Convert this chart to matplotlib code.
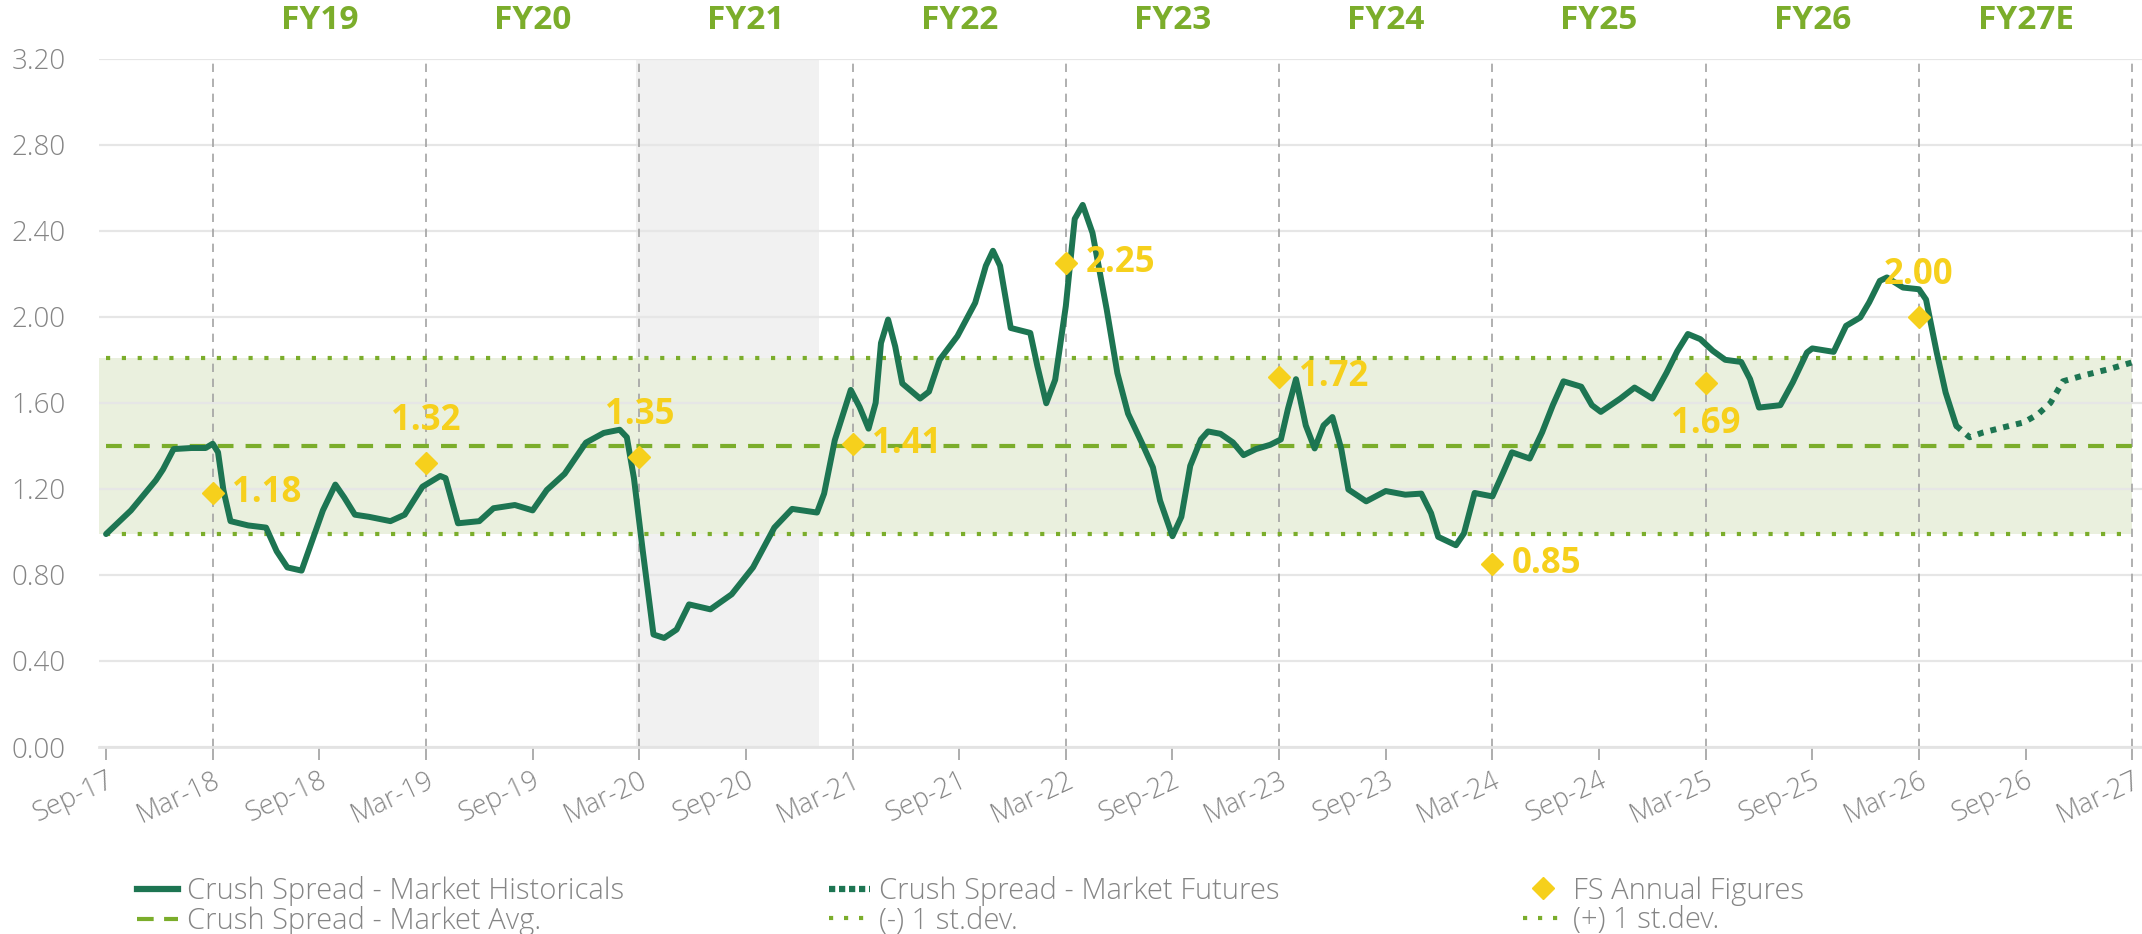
import matplotlib.pyplot as plt
from matplotlib.lines import Line2D
import numpy as np

plt.rcParams['font.family'] = ['Open Sans', 'DejaVu Sans']

# x values are months counted from Sep-17
hist_month = [0.0, 1.4, 2.8, 3.2, 3.8, 4.8, 5.6, 6.0, 6.3, 6.6, 7.0, 8.0, 9.0, 9.6,
              10.2, 11.0, 11.6, 12.2, 12.9, 13.4, 14.0, 14.8, 16.0, 16.8, 17.8,
              18.8, 19.1, 19.8, 21.0, 21.8, 23.0, 24.0, 24.8, 25.8, 27.0, 28.0,
              28.9, 29.3, 29.7, 30.2, 30.8, 31.4, 32.1, 32.8, 34.0, 35.2, 36.4,
              37.6, 38.6, 40.0, 40.4, 41.0, 41.9, 42.4, 42.9, 43.3, 43.6, 44.0,
              44.4, 44.8, 45.8, 46.3, 46.9, 47.9, 48.9, 49.5, 49.9, 50.3, 50.9,
              52.0, 52.4, 52.9, 53.4, 54.0, 54.5, 54.95, 55.5, 56.3, 56.9, 57.5,
              58.3, 58.9, 59.3, 60.0, 60.5, 61.0, 61.6, 62.0, 62.7, 63.4, 64.0,
              64.7, 65.5, 66.1, 66.5, 66.95, 67.5, 68.0, 68.5, 69.0, 69.5, 69.9,
              70.9, 72.0, 73.1, 74.0, 74.55, 74.95, 75.95, 76.4, 77.0, 78.0, 78.6,
              79.1, 80.1, 80.8, 81.4, 82.0, 83.0, 83.6, 84.1, 85.2, 86.0, 87.0,
              87.8, 88.4, 89.0, 89.7, 90.4, 91.1, 92.0, 92.5, 93.0, 94.2, 94.9,
              95.7, 96.0, 97.2, 97.9, 98.7, 99.2, 99.8, 100.2, 101.1, 102.0,
              102.4, 103.0, 103.5, 104.1]
hist_value = [0.99, 1.10, 1.24, 1.29, 1.385, 1.39, 1.39, 1.41, 1.37, 1.195, 1.05,
              1.03, 1.02, 0.91, 0.835, 0.82, 0.96, 1.10, 1.22, 1.16, 1.08, 1.07,
              1.05, 1.08, 1.21, 1.26, 1.25, 1.04, 1.05, 1.11, 1.125, 1.10, 1.195,
              1.27, 1.415, 1.46, 1.475, 1.44, 1.25, 0.91, 0.523, 0.507, 0.546,
              0.663, 0.64, 0.71, 0.835, 1.02, 1.107, 1.09, 1.178, 1.426, 1.66,
              1.58, 1.48, 1.60, 1.878, 1.987, 1.862, 1.69, 1.62, 1.652, 1.80,
              1.91, 2.065, 2.237, 2.307, 2.237, 1.948, 1.925, 1.77, 1.598, 1.707,
              2.05, 2.455, 2.52, 2.39, 2.034, 1.738, 1.55, 1.41, 1.30, 1.146,
              0.98, 1.07, 1.307, 1.43, 1.467, 1.456, 1.416, 1.357, 1.385, 1.405,
              1.43, 1.573, 1.71, 1.495, 1.388, 1.495, 1.534, 1.385, 1.197, 1.142,
              1.19, 1.173, 1.178, 1.087, 0.977, 0.938, 0.993, 1.181, 1.165, 1.275,
              1.37, 1.341, 1.463, 1.589, 1.70, 1.675, 1.589, 1.558, 1.62, 1.671,
              1.62, 1.74, 1.84, 1.92, 1.896, 1.842, 1.80, 1.79, 1.71, 1.578,
              1.589, 1.695, 1.834, 1.853, 1.837, 1.958, 1.997, 2.067, 2.167,
              2.183, 2.136, 2.128, 2.08, 1.834, 1.648, 1.493]

fut_month = [104.1, 104.85, 105.6, 106.7, 107.9, 108.7, 109.4, 110.1, 111.2, 112.7, 114.0]
fut_value = [1.493, 1.44, 1.462, 1.485, 1.509, 1.547, 1.60, 1.70, 1.726, 1.757, 1.788]

fs_month = [6, 18, 30, 42, 54, 66, 78, 90, 102]
fs_value = [1.18, 1.32, 1.35, 1.41, 2.25, 1.72, 0.85, 1.69, 2.00]
fs_label_side = ['right', 'top', 'top', 'right', 'right', 'right', 'right', 'bottom', 'top']

market_avg = 1.40
market_sd = 0.41

tick_labels = ['Sep-17', 'Mar-18', 'Sep-18', 'Mar-19', 'Sep-19', 'Mar-20', 'Sep-20',
               'Mar-21', 'Sep-21', 'Mar-22', 'Sep-22', 'Mar-23', 'Sep-23', 'Mar-24',
               'Sep-24', 'Mar-25', 'Sep-25', 'Mar-26', 'Sep-26', 'Mar-27']
fy_month = [12, 24, 36, 48, 60, 72, 84, 96, 108]
fy_labels = ['FY19', 'FY20', 'FY21', 'FY22', 'FY23', 'FY24', 'FY25', 'FY26', 'FY27E']
covid_span = (29.8, 40.1)

dark = '#1d7552'
olive = '#7bad2b'
yellow = '#f6d01c'
grey_txt = '#858585'

fig = plt.figure(figsize=(21.42, 9.34), dpi=100)
ax = fig.add_axes([0.0462, 0.2002, 0.9538, 0.737])
ax.set_xlim(-0.4, 114.55)
ax.set_ylim(0, 3.2)

end = len(tick_labels) * 6 - 6

# shaded period and the +/- 1 sd band
ax.axvspan(*covid_span, color='#f1f1f1', lw=0, zorder=0.2)
ax.fill_between([-0.4, end], market_avg - market_sd, market_avg + market_sd,
                color='#eaf0de', lw=0, zorder=0.3)

ax.set_axisbelow(True)
ax.set_yticks(np.arange(0, 3.21, 0.4))
ax.yaxis.grid(True, color='#e6e6e6', lw=1.6)
ax.set_yticklabels(['%.2f' % v for v in np.arange(0, 3.21, 0.4)])

ax.vlines(fs_month + [end], 0, 3.2, colors='#a3a3a3', lw=1.2,
          linestyles=(0, (5, 4)), zorder=1)

ax.plot([0, end], [market_avg] * 2, color=olive, lw=3, ls=(0, (3.8, 2.9)), zorder=2)
ax.plot([0, end], [market_avg - market_sd] * 2, color=olive, lw=3, ls=(0, (1, 2.8)), zorder=2)
ax.plot([0, end], [market_avg + market_sd] * 2, color=olive, lw=3, ls=(0, (1, 2.8)), zorder=2)

ax.plot(hist_month, hist_value, color=dark, lw=4.3, solid_joinstyle='round',
        solid_capstyle='round', zorder=4)
ax.plot(fut_month, fut_value, color=dark, lw=4.3, ls=(0, (1, 1.2)), zorder=4)

ax.plot(fs_month, fs_value, 'D', color=yellow, ms=11, zorder=5)
offsets = {'right': ((14, 0), 'left'), 'top': ((0, 30), 'center'), 'bottom': ((0, -29), 'center')}
for m, v, side in zip(fs_month, fs_value, fs_label_side):
    off, ha = offsets[side]
    ax.annotate('%.2f' % v, (m, v), xytext=off, textcoords='offset points',
                ha=ha, va='center', fontsize=25, fontweight='bold', color=yellow, zorder=6)

for m, lab in zip(fy_month, fy_labels):
    ax.text(m, 1.0555, lab, transform=ax.get_xaxis_transform(), ha='center', va='center',
            fontsize=24, fontweight='bold', color=olive)

ax.set_xticks(range(0, end + 1, 6))
ax.set_xticklabels(tick_labels, rotation=25, ha='right', rotation_mode='anchor',
                   fontweight='light')
ax.tick_params(axis='x', length=9, width=1.2, color='#a0a0a0', pad=5,
               labelsize=19.5, labelcolor=grey_txt)
ax.tick_params(axis='y', length=0, pad=24, labelsize=20, labelcolor=grey_txt)
for lab in ax.get_yticklabels():
    lab.set_fontweight('light')
for s in ['top', 'right', 'left']:
    ax.spines[s].set_visible(False)
ax.spines['bottom'].set_color('#e3e3e3')
ax.spines['bottom'].set_linewidth(2)

h_hist = Line2D([], [], color=dark, lw=4.5)
h_fut = Line2D([], [], color=dark, lw=4.5, ls=(0, (1, 0.6)))
h_avg = Line2D([], [], color=olive, lw=3, ls=(0, (4, 2.5)))
h_sd = Line2D([], [], color=olive, lw=3, ls=(0, (1, 2.6)))
h_fs = Line2D([], [], color=yellow, marker='D', ms=11, ls='none')

legend_cols = [
    (0.064, [h_hist, h_avg], ['Crush Spread - Market Historicals', 'Crush Spread - Market Avg.']),
    (0.387, [h_fut, h_sd], ['Crush Spread - Market Futures', '(-) 1 st.dev.']),
    (0.711, [h_fs, h_sd], ['FS Annual Figures', '(+) 1 st.dev.']),
]
for x0, hs, labs in legend_cols:
    fig.legend(hs, labs, loc='upper left', bbox_to_anchor=(x0, 0.062), frameon=False,
               prop={'size': 21, 'weight': 'light'}, labelcolor=grey_txt,
               handlelength=1.4, handletextpad=0.3, labelspacing=0.0,
               borderpad=0, borderaxespad=0)

fig.savefig('out.png', dpi=100)
